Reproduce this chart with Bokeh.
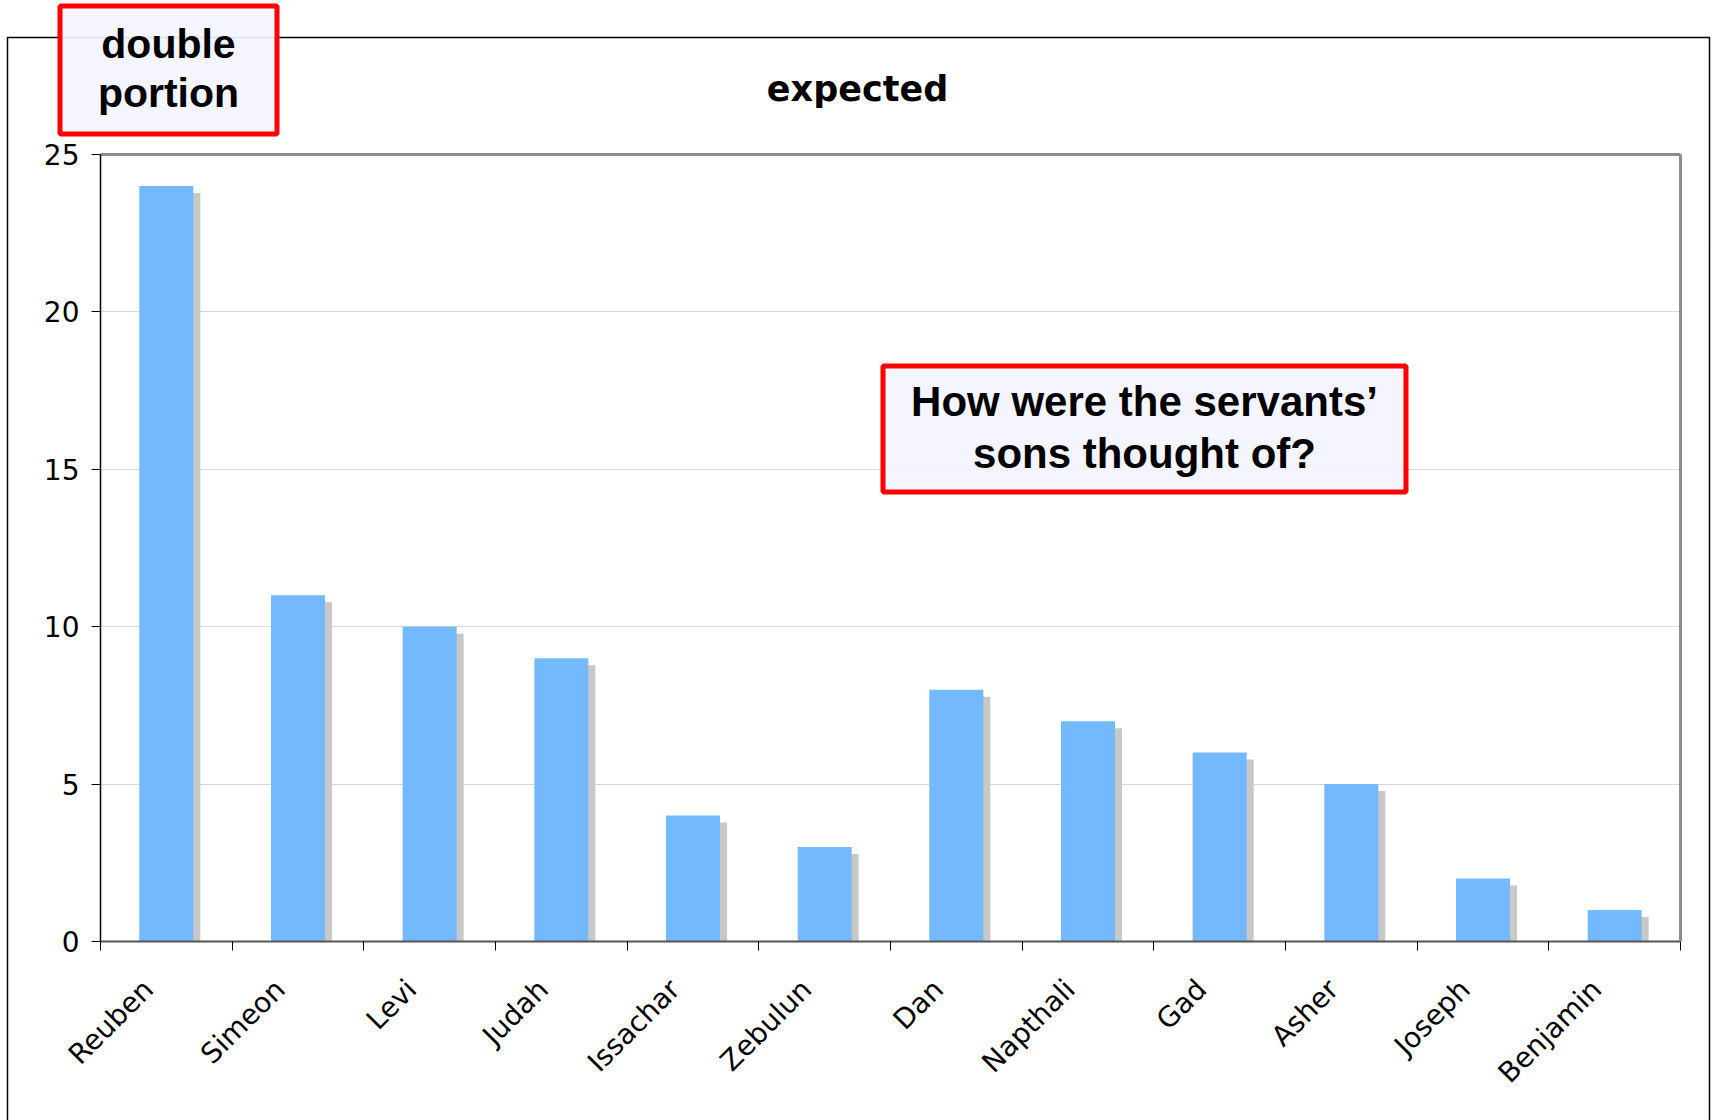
import math
from bokeh.plotting import figure
from bokeh.models import Range1d, FixedTicker, BoxAnnotation, Label, LinearAxis
from bokeh.embed import file_html
from bokeh.resources import INLINE

# ---- data ----
categories = ["Reuben", "Simeon", "Levi", "Judah", "Issachar", "Zebulun",
              "Dan", "Napthali", "Gad", "Asher", "Joseph", "Benjamin"]
values = [24, 11, 10, 9, 4, 3, 8, 7, 6, 5, 2, 1]
y_ticks = [0, 5, 10, 15, 20, 25]
title_text = "expected"
note_left = "double\nportion"
note_right = "How were the servants\u2019\nsons thought of?"

# ---- layout (pixels) ----
W, H = 1714, 1120
FL, FR, FT, FB = 100, 1680, 154, 941   # plot area on the canvas
YMAX = 25
n = len(categories)
px_x = (FR - FL) / n
px_y = (FB - FT) / YMAX

p = figure(width=W, height=H, output_backend="svg", toolbar_location=None,
           x_range=Range1d(-FL / px_x, n + (W - FR) / px_x),
           y_range=Range1d(-(H - FB) / px_y, YMAX + FT / px_y),
           min_border=0, min_border_left=0, min_border_right=0,
           min_border_top=0, min_border_bottom=0)
p.title.visible = False
p.outline_line_color = None
p.background_fill_color = "white"
p.border_fill_color = "white"

# outer chart border (drawn first, under everything)
p.add_layout(BoxAnnotation(left=7, right=1709, top=37, bottom=1135,
                           left_units="canvas", right_units="canvas",
                           top_units="canvas", bottom_units="canvas",
                           fill_alpha=0, line_color="black", line_alpha=1,
                           line_width=1.5, level="underlay"))

# grid
p.xgrid.visible = False
p.ygrid.ticker = FixedTicker(ticks=y_ticks)
p.ygrid.grid_line_color = "#D6D6D6"
p.ygrid.grid_line_width = 1
p.ygrid.bounds = (0, YMAX)
p.ygrid.cross_bounds = (0, n)

xs = [i + 0.5 for i in range(n)]
bar_w = 54 / px_x
sh_dx = 7 / px_x
sh_dy = 7 / px_y
p.vbar(x=[x + sh_dx for x in xs], top=[v - sh_dy for v in values], width=bar_w,
       fill_color="#C8C8C8", line_color=None)
p.vbar(x=xs, top=values, width=bar_w, fill_color="#74B8FE", line_color=None)

# y axis
ya = p.yaxis[0]
ya.fixed_location = 0
ya.bounds = (0, YMAX)
ya.ticker = FixedTicker(ticks=y_ticks)
ya.axis_line_color = "black"
ya.axis_line_width = 1.5
ya.major_tick_out = 9
ya.major_tick_in = 0
ya.minor_tick_out = 0
ya.minor_tick_in = 0
ya.major_tick_line_color = "black"
ya.major_label_standoff = 12
ya.major_label_text_font = "DejaVu Sans"
ya.major_label_text_font_size = "28px"
ya.major_label_text_color = "black"

# x axis
label_xs = [x - 18 / px_x for x in xs]
xa = p.xaxis[0]
xa.fixed_location = 0
xa.bounds = (0, n)
xa.ticker = FixedTicker(ticks=label_xs, minor_ticks=list(range(n + 1)))
xa.major_label_overrides = {x: c for x, c in zip(label_xs, categories)}
xa.major_label_orientation = math.pi / 4
xa.axis_line_color = "#555555"
xa.axis_line_width = 2
xa.major_tick_out = 0
xa.major_tick_in = 0
xa.minor_tick_out = 9
xa.minor_tick_in = 0
xa.minor_tick_line_color = "black"
xa.major_label_standoff = 34
xa.major_label_text_font = "DejaVu Sans"
xa.major_label_text_font_size = "28px"
xa.major_label_text_color = "black"

# plot-area border on top and right
for place, loc, bnd in (("right", n, (0, YMAX)), ("above", YMAX, (0, n))):
    ax = LinearAxis(fixed_location=loc, bounds=bnd, ticker=FixedTicker(ticks=[]),
                    axis_line_color="#8C8C8C", axis_line_width=3,
                    major_tick_out=0, major_tick_in=0, minor_tick_out=0,
                    minor_tick_in=0, major_label_text_font_size="0px")
    p.add_layout(ax, place)

# title
p.add_layout(Label(x=857, y=88, x_units="canvas", y_units="canvas",
                   text=title_text, text_align="center", text_baseline="middle",
                   text_font="DejaVu Sans", text_font_style="bold",
                   text_font_size="35px", text_color="black"))

# note boxes
p.add_layout(BoxAnnotation(left=59.5, right=276.5, top=5.5, bottom=133.5,
                           left_units="canvas", right_units="canvas",
                           top_units="canvas", bottom_units="canvas",
                           fill_color="#F3F4FF", fill_alpha=0.92,
                           line_color="#FF0000", line_alpha=1, line_width=5))
p.add_layout(Label(x=168, y=68, x_units="canvas", y_units="canvas",
                   text=note_left, text_align="center", text_baseline="middle",
                   text_font="Liberation Sans", text_font_style="bold",
                   text_font_size="41px", text_line_height=1.08, text_color="black"))

p.add_layout(BoxAnnotation(left=882.5, right=1405.5, top=365.5, bottom=491.5,
                           left_units="canvas", right_units="canvas",
                           top_units="canvas", bottom_units="canvas",
                           fill_color="#F3F4FF", fill_alpha=0.92,
                           line_color="#FF0000", line_alpha=1, line_width=5))
p.add_layout(Label(x=1144, y=427, x_units="canvas", y_units="canvas",
                   text=note_right, text_align="center", text_baseline="middle",
                   text_font="Liberation Sans", text_font_style="bold",
                   text_font_size="42px", text_line_height=1.1, text_color="black"))

open("out.html", "w").write(file_html(p, INLINE))
